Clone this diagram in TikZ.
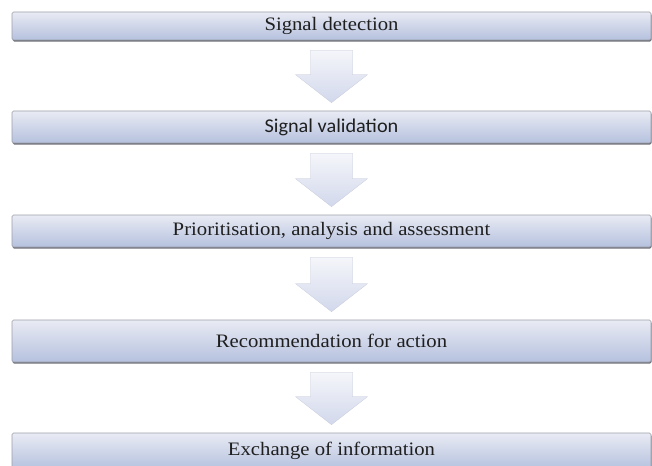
\documentclass[tikz,border=0pt]{standalone}
\usepackage{fontspec}
\setmainfont{Liberation Serif}[FakeStretch=1.09]
\newfontfamily\calibrifont{Carlito}[FakeStretch=1.04]
\usetikzlibrary{calc,shadows}
\definecolor{boxtop}{HTML}{E9EBF4}
\definecolor{boxbot}{HTML}{B5C1DE}
\definecolor{boxline}{HTML}{9C9EA8}
\definecolor{boxshadow}{HTML}{6E7079}
\definecolor{arrtop}{HTML}{F5F6FA}
\definecolor{arrbot}{HTML}{D2D8EC}
\tikzset{
  stepbox/.style={draw=boxline, line width=0.6pt, rounded corners=1.5pt,
    top color=boxtop, bottom color=boxbot,
    minimum width=639pt, inner sep=0pt, text=black!88,
    font=\fontsize{19}{22}\selectfont,
    drop shadow={shadow xshift=0.6pt, shadow yshift=-1.6pt, opacity=1, fill=boxshadow}},
  blockarrow/.style={top color=arrtop, bottom color=arrbot, draw=arrbot!80!gray, line width=0.2pt}
}
\newcommand{\flowarrow}[2]{%
  \path[blockarrow] ($(#1.south)+(-21,10)$) -- ($(#1.south)+(21,10)$)
    -- ($(#2.north)+(21,-36)$) -- ($(#2.north)+(36,-36)$)
    -- ($(#2.north)+(0,-8)$) -- ($(#2.north)+(-36,-36)$)
    -- ($(#2.north)+(-21,-36)$) -- cycle;}
\begin{document}
\begin{tikzpicture}[x=1pt,y=-1pt]
\useasboundingbox (0,0) rectangle (652,465);
\node[stepbox, minimum height=28pt] (b1) at (331.5,26) {Signal detection};
\node[stepbox, minimum height=32pt, font=\calibrifont\fontsize{19.5}{22}\selectfont] (b2) at (331.5,127) {Signal validation};
\node[stepbox, minimum height=32pt] (b3) at (331.5,231) {Prioritisation, analysis and assessment};
\node[stepbox, minimum height=42pt] (b4) at (331.5,341) {Recommendation for action};
\node[stepbox, minimum height=36pt] (b5) at (331.5,451) {Exchange of information};
\flowarrow{b1}{b2}
\flowarrow{b2}{b3}
\flowarrow{b3}{b4}
\flowarrow{b4}{b5}
\end{tikzpicture}
\end{document}
